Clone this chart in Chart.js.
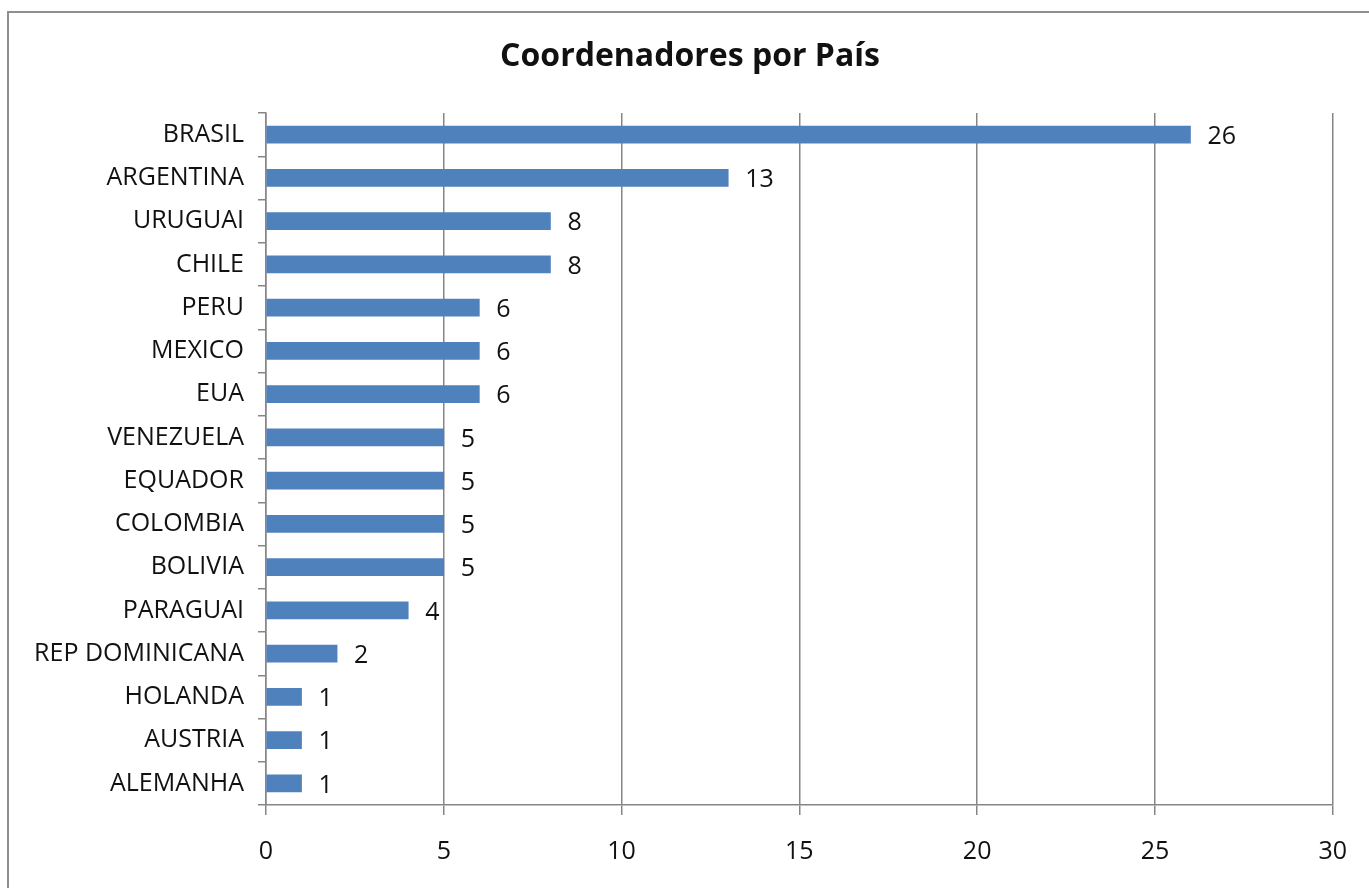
<!DOCTYPE html>
<html>
<head>
<meta charset="utf-8">
<script src="https://cdn.jsdelivr.net/npm/chart.js@4"></script>
<style>
  html, body { margin: 0; padding: 0; background: #ffffff; }
  #wrap { position: relative; width: 1369px; height: 888px; overflow: hidden; }
  #frame { position: absolute; left: 7px; top: 11px; right: -5px; bottom: -5px; border-top: 2px solid #8e8e8e; border-left: 2px solid #8e8e8e; box-sizing: border-box; }
  canvas { position: absolute; left: 0; top: 0; }
</style>
</head>
<body>
<div id="wrap">
  <div id="frame"></div>
  <canvas id="c" width="1369" height="888"></canvas>
</div>
<script>
const titleText = "Coordenadores por País";
const countries = ["BRASIL", "ARGENTINA", "URUGUAI", "CHILE", "PERU", "MEXICO", "EUA", "VENEZUELA", "EQUADOR", "COLOMBIA", "BOLIVIA", "PARAGUAI", "REP DOMINICANA", "HOLANDA", "AUSTRIA", "ALEMANHA"];
const coordinators = [26, 13, 8, 8, 6, 6, 6, 5, 5, 5, 5, 4, 2, 1, 1, 1];
const xMin = 0, xMax = 30, xStep = 5;

const FONT = "'Open Sans', 'DejaVu Sans', sans-serif";
const gridColor = "#868686";
const textColor = "#111111";

const valueLabels = {
  id: "valueLabels",
  afterDatasetsDraw(chart) {
    const ctx = chart.ctx;
    const meta = chart.getDatasetMeta(0);
    ctx.save();
    ctx.font = "25px " + FONT;
    ctx.fillStyle = textColor;
    ctx.textAlign = "left";
    ctx.textBaseline = "middle";
    meta.data.forEach((bar, i) => {
      ctx.fillText(String(coordinators[i]), bar.x + 17, bar.y + 2);
    });
    ctx.restore();
  }
};

const chartTitle = {
  id: "chartTitle",
  afterDraw(chart) {
    const ctx = chart.ctx;
    ctx.save();
    ctx.font = "bold 32px " + FONT;
    ctx.fillStyle = textColor;
    ctx.textAlign = "center";
    ctx.textBaseline = "middle";
    ctx.fillText(titleText, 690, 57);
    ctx.restore();
  }
};

new Chart(document.getElementById("c"), {
  type: "bar",
  data: {
    labels: countries,
    datasets: [{
      data: coordinators,
      backgroundColor: "#4F81BD",
      borderWidth: 0,
      barThickness: 17
    }]
  },
  options: {
    indexAxis: "y",
    responsive: false,
    animation: false,
    layout: { padding: { top: 113, right: 36, bottom: 0, left: 0 } },
    plugins: {
      legend: { display: false },
      tooltip: { enabled: false },
      title: { display: false }
    },
    scales: {
      x: {
        min: xMin,
        max: xMax,
        ticks: {
          stepSize: xStep,
          color: textColor,
          font: { family: FONT, size: 25 },
          padding: 22
        },
        grid: {
          color: gridColor,
          lineWidth: 1.5,
          drawTicks: true,
          tickLength: 10,
          tickColor: gridColor
        },
        border: { display: true, color: gridColor, width: 1.5 },
        afterFit(scale) { scale.height = 83; }
      },
      y: {
        offset: true,
        ticks: {
          color: textColor,
          font: { family: FONT, size: 25 },
          padding: 14,
          autoSkip: false
        },
        grid: {
          offset: true,
          drawOnChartArea: false,
          drawTicks: true,
          tickLength: 8,
          color: gridColor,
          lineWidth: 1.5
        },
        border: { display: true, color: gridColor, width: 1.5 },
        afterFit(scale) { scale.width = 266; }
      }
    }
  },
  plugins: [valueLabels, chartTitle]
});
</script>
</body>
</html>
